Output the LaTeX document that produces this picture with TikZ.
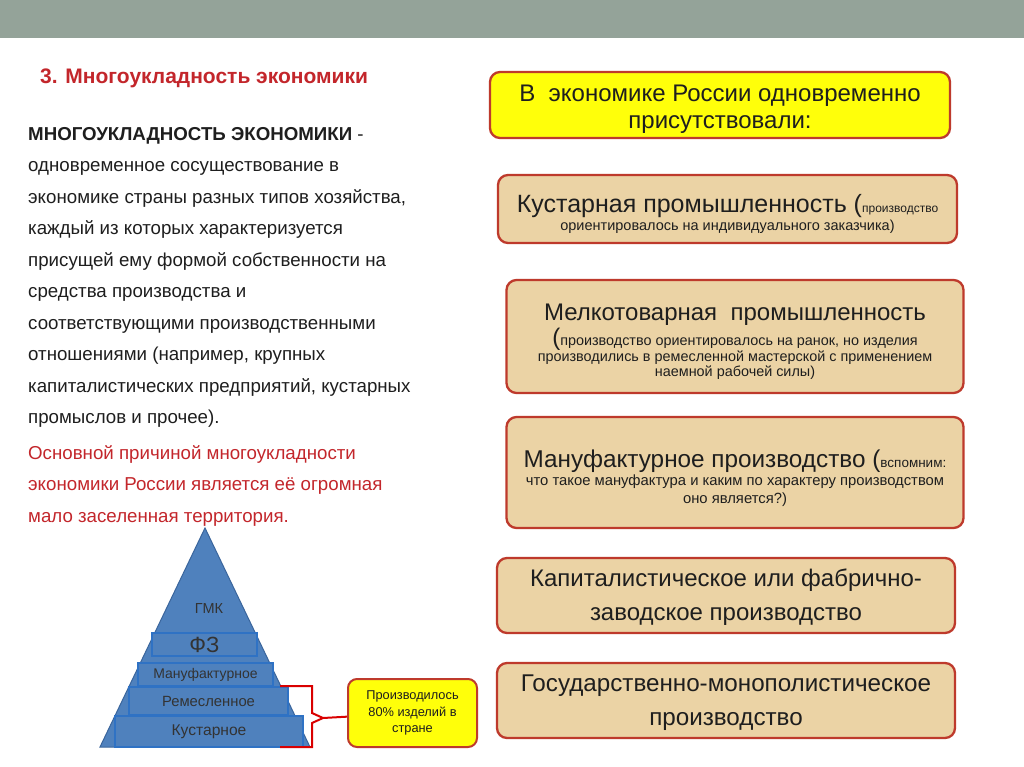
\documentclass[tikz,border=0pt]{standalone}
\usepackage{fontspec}
\setmainfont{Liberation Sans}
\usepackage{tikz}
\usetikzlibrary{positioning,calc}
\definecolor{bandgray}{HTML}{94A399}
\definecolor{titlered}{HTML}{C3262B}
\definecolor{boxred}{HTML}{BE3A2C}
\definecolor{papyrus}{HTML}{EBD3A5}
\definecolor{signyellow}{HTML}{FFFF0A}
\definecolor{pyrblue}{HTML}{4F81BD}
\definecolor{pyredge}{HTML}{3A659C}
\definecolor{layerblue}{HTML}{2F72C4}
\definecolor{inkgray}{HTML}{1E1E1E}

\begin{document}
\setlength{\lineskiplimit}{-50pt}
\begin{tikzpicture}[x=1pt,y=-1pt,
  block/.style={draw=boxred,line width=2.3pt,fill=papyrus,rounded corners=10pt,inner sep=0pt},
  boxtext/.style={align=center,inner sep=0pt,text=inkgray,font=\fontsize{14.5}{18}\selectfont},
  big/.style={font=\fontsize{24}{27}\selectfont},
  layer/.style={draw=layerblue,line width=1.5pt,fill=pyrblue,inner sep=0pt,text=black!80,font=\fontsize{14.5}{16}\selectfont},
  bracket/.style={draw=red!85!black,line width=2pt}
]
  \useasboundingbox (0,0) rectangle (1024,767);
  \fill[white] (0,0) rectangle (1024,767);
  \fill[bandgray] (0,0) rectangle (1024,38);

  % left column
  \node[anchor=base west,inner sep=0pt,text=titlered,font=\fontsize{21}{23}\selectfont\bfseries] (title) at (40,83.5) {3. Многоукладность экономики};
  \node[anchor=north west,inner sep=0pt,align=left,text=inkgray,font=\fontsize{18.7}{31.5}\selectfont] (defn) at (28,127)
    {\textbf{МНОГОУКЛАДНОСТЬ ЭКОНОМИКИ} -\\
     одновременное сосуществование в\\
     экономике страны разных типов хозяйства,\\
     каждый из которых характеризуется\\
     присущей ему формой собственности на\\
     средства производства и\\
     соответствующими производственными\\
     отношениями (например, крупных\\
     капиталистических предприятий, кустарных\\
     промыслов и прочее).};
  \node[anchor=north west,inner sep=0pt,align=left,text=titlered,font=\fontsize{18.7}{31.5}\selectfont] (cause) at (28,445)
    {Основной причиной многоукладности\\
     экономики России является её огромная\\
     мало заселенная территория.};

  % pyramid
  \filldraw[fill=pyrblue,draw=pyredge,line width=1pt] (205,528) -- (310,747) -- (100,747) -- cycle;
  \node[text=black!80,font=\fontsize{14.5}{16}\selectfont] (gmk) at (209,609) {ГМК};
  \node[layer,minimum width=105pt,minimum height=23pt,font=\fontsize{22}{24}\selectfont] (fz) at (204.5,644.5) {ФЗ};
  \node[layer,minimum width=135pt,minimum height=23pt,font=\fontsize{14}{16}\selectfont] (manuf) at (205.5,674.5) {Мануфактурное};
  \node[layer,minimum width=159pt,minimum height=28pt,font=\fontsize{14.8}{16}\selectfont] (craft) at (208.5,701) {Ремесленное};
  \node[layer,minimum width=188pt,minimum height=31pt,font=\fontsize{15.6}{17}\selectfont] (home) at (209,731.5) {Кустарное};

  \node[draw=boxred,line width=2pt,fill=signyellow,rounded corners=9pt,minimum width=129pt,minimum height=68pt,
    align=center,inner sep=0pt,text=inkgray,font=\fontsize{12.8}{16.5}\selectfont] (note) at (412.5,713)
    {Производилось\\80\% изделий в\\стране};
  \coordinate (tip) at (323,718);
  \draw[bracket] (280,686) -- (312,686) -- (312,713) -- (tip) -- (312,723) -- (312,747) -- (280,747);
  \draw[bracket] (tip) -- (note);

  % right column
  \node[block,fill=signyellow,minimum width=460pt,minimum height=66pt] (intro) at (720,105) {};
  \node[boxtext,big] (introtext) at ([yshift=-4pt]intro.center)
    {В\ \ экономике России одновременно\\присутствовали:};

  \node[block,minimum width=459pt,minimum height=68pt] (kustar) at (727.5,209) {};
  \node[boxtext] (kustartext) at ([yshift=-5pt]kustar.center)
    {{\fontsize{25}{27}\selectfont Кустарная промышленность (}{\fontsize{12}{14}\selectfont производство}\\
     ориентировалось на индивидуального заказчика)};

  \node[block,minimum width=457pt,minimum height=113pt] (melko) at (735,336.5) {};
  \node[boxtext,font=\fontsize{14.4}{15.5}\selectfont] (melkotext) at ([yshift=-5pt]melko.center)
    {{\fontsize{24}{27}\selectfont Мелкотоварная\ \ промышленность}\\[10pt]
     {\fontsize{24}{27}\selectfont (}производство ориентировалось на ранок, но изделия\\
     производились в ремесленной мастерской с применением\\
     наемной рабочей силы)};

  \node[block,minimum width=457pt,minimum height=111pt] (manufact) at (735,472.5) {};
  \node[boxtext,font=\fontsize{14.8}{18}\selectfont] (manufacttext) at ([yshift=-5.5pt]manufact.center)
    {{\fontsize{24.3}{27}\selectfont Мануфактурное производство (}{\fontsize{13.5}{14}\selectfont вспомним:}\\[-0.5pt]
     что такое мануфактура и каким по характеру производством\\
     оно является?)};

  \node[block,minimum width=458pt,minimum height=75pt] (capital) at (726,595.5) {};
  \node[boxtext,font=\fontsize{24}{34.5}\selectfont] (capitaltext) at ([yshift=-1.5pt]capital.center)
    {Капиталистическое или фабрично-\\заводское производство};

  \node[block,minimum width=458pt,minimum height=75pt] (state) at (726,700.5) {};
  \node[boxtext,font=\fontsize{24.2}{34}\selectfont] (statetext) at ([yshift=-2.5pt]state.center)
    {Государственно-монополистическое\\производство};
\end{tikzpicture}
\end{document}
